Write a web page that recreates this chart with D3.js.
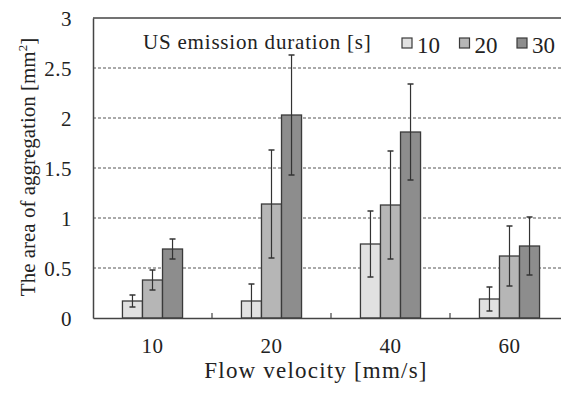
<!DOCTYPE html>
<html lang="en">
  <head>
    <meta charset="UTF-8" />
    <title>aggregation-bars</title>
    <style>
      body { margin: 0; background: #fff; }
      svg text {
        font-family: "Liberation Serif", "Times New Roman", Times, Tinos, "Noto Serif", "DejaVu Serif", serif !important;
        fill: #222;
      }
    </style>
  </head>
  <body>
    <svg width="561" height="394" id="svg"></svg>
    <script src="https://cdnjs.cloudflare.com/ajax/libs/d3/7.8.5/d3.min.js"></script>
    <script>
      // data
      const velocities = ["10", "20", "40", "60"];
      const durations = ["10", "20", "30"];
      const means = [
        [0.17, 0.38, 0.69],
        [0.17, 1.14, 2.03],
        [0.74, 1.13, 1.86],
        [0.19, 0.62, 0.72],
      ];
      const errors = [
        [0.06, 0.1, 0.1],
        [0.17, 0.54, 0.6],
        [0.33, 0.54, 0.48],
        [0.12, 0.3, 0.29],
      ];
      const yTicks = [0, 0.5, 1, 1.5, 2, 2.5, 3];
      const colors = ["#e1e1e1", "#b6b6b6", "#8d8d8d"];

      const svg = d3.select("#svg");
      const margin = { top: 18, left: 93, bottom: 76 };
      const inner_width = 476; // right part is cut by the window
      const inner_height = 394 - margin.top - margin.bottom;

      const g = svg.append("g")
        .attr("transform", `translate(${margin.left},${margin.top})`);

      const x = d3.scaleBand().domain(velocities).range([0, inner_width]);
      const xSub = d3.scaleBand().domain(durations)
        .range([0, x.bandwidth() * 0.505]);
      const y = d3.scaleLinear().domain([0, 3]).range([inner_height, 0]);

      // dashed grid
      g.selectAll(".grid")
        .data(yTicks.filter((d) => d > 0 && d < 3))
        .join("line")
        .attr("x1", 0).attr("x2", inner_width)
        .attr("y1", (d) => y(d)).attr("y2", (d) => y(d))
        .attr("stroke", "#555")
        .attr("stroke-width", 1)
        .attr("stroke-dasharray", "3,2");

      // top frame line
      g.append("line")
        .attr("x1", 0).attr("x2", inner_width)
        .attr("y1", y(3)).attr("y2", y(3))
        .attr("stroke", "#444").attr("stroke-width", 1.5);

      // bars
      const groups = g.selectAll(".grp")
        .data(velocities)
        .join("g")
        .attr("transform", (d) =>
          `translate(${x(d) + x.bandwidth() / 2 - xSub.range()[1] / 2},0)`);

      groups.selectAll("rect")
        .data((d, i) => durations.map((s, j) => ({ s, v: means[i][j], e: errors[i][j] })))
        .join("rect")
        .attr("x", (d) => xSub(d.s))
        .attr("width", xSub.bandwidth())
        .attr("y", (d) => y(d.v))
        .attr("height", (d) => y(0) - y(d.v))
        .attr("fill", (d, j) => colors[j])
        .attr("stroke", "#3a3a3a")
        .attr("stroke-width", 1.3);

      // error bars
      const eb = groups.selectAll(".err")
        .data((d, i) => durations.map((s, j) => ({ s, v: means[i][j], e: errors[i][j] })))
        .join("g")
        .attr("transform", (d) => `translate(${xSub(d.s) + xSub.bandwidth() / 2},0)`);
      eb.append("line")
        .attr("y1", (d) => y(d.v + d.e)).attr("y2", (d) => y(Math.max(0, d.v - d.e)))
        .attr("stroke", "#333").attr("stroke-width", 1.2);
      eb.append("line")
        .attr("x1", -3).attr("x2", 3)
        .attr("y1", (d) => y(d.v + d.e)).attr("y2", (d) => y(d.v + d.e))
        .attr("stroke", "#333").attr("stroke-width", 1.5);
      eb.filter((d) => d.v - d.e > 0.01).append("line")
        .attr("x1", -3).attr("x2", 3)
        .attr("y1", (d) => y(d.v - d.e)).attr("y2", (d) => y(d.v - d.e))
        .attr("stroke", "#333").attr("stroke-width", 1.5);

      // y axis
      const yAxis = g.append("g")
        .call(d3.axisLeft(y).tickValues(yTicks).tickSize(0).tickPadding(21)
          .tickFormat(d3.format("")));
      yAxis.attr("font-family", null);
      yAxis.select(".domain").attr("stroke", "#444").attr("stroke-width", 1.5);
      yAxis.selectAll("text")
        .attr("font-size", 21)
        .attr("letter-spacing", 0.5)
        .attr("dy", "0.36em");

      // x axis
      const xAxis = g.append("g")
        .attr("transform", `translate(0,${inner_height})`)
        .call(d3.axisBottom(x).tickSize(0).tickPadding(20));
      xAxis.attr("font-family", null);
      xAxis.select(".domain").attr("stroke", "#444").attr("stroke-width", 1.5);
      xAxis.selectAll("text")
        .attr("font-size", 21)
        .attr("letter-spacing", 0.5);

      // boundary ticks between categories, pointing up
      g.selectAll(".sep")
        .data(velocities.slice(1))
        .join("line")
        .attr("x1", (d) => x(d)).attr("x2", (d) => x(d))
        .attr("y1", inner_height).attr("y2", inner_height - 5)
        .attr("stroke", "#444").attr("stroke-width", 1.2);

      // axis titles
      svg.append("text")
        .attr("x", 316).attr("y", 378)
        .attr("text-anchor", "middle")
        .attr("font-size", 23)
        .attr("letter-spacing", 1.2)
        .text("Flow velocity [mm/s]");

      const yTitle = svg.append("text")
        .attr("transform", "translate(35,167) rotate(-90)")
        .attr("text-anchor", "middle")
        .attr("font-size", 21);
      yTitle.append("tspan").text("The area of aggregation [mm");
      yTitle.append("tspan").attr("font-size", 13).attr("dy", -8).text("2");
      yTitle.append("tspan").attr("dy", 8).text("]");

      // legend
      svg.append("text")
        .attr("x", 143).attr("y", 49)
        .attr("font-size", 21)
        .attr("letter-spacing", 0.8)
        .text("US emission duration [s]");

      const leg = svg.selectAll(".leg")
        .data(durations)
        .join("g")
        .attr("transform", (d, i) => `translate(${402 + i * 57.5},38)`);
      leg.append("rect")
        .attr("width", 10).attr("height", 10)
        .attr("fill", (d, i) => colors[i])
        .attr("stroke", "#3a3a3a").attr("stroke-width", 1.2);
      leg.append("text")
        .attr("x", 15).attr("y", 15)
        .attr("font-size", 23)
        .text((d) => d);
    </script>
  </body>
</html>
